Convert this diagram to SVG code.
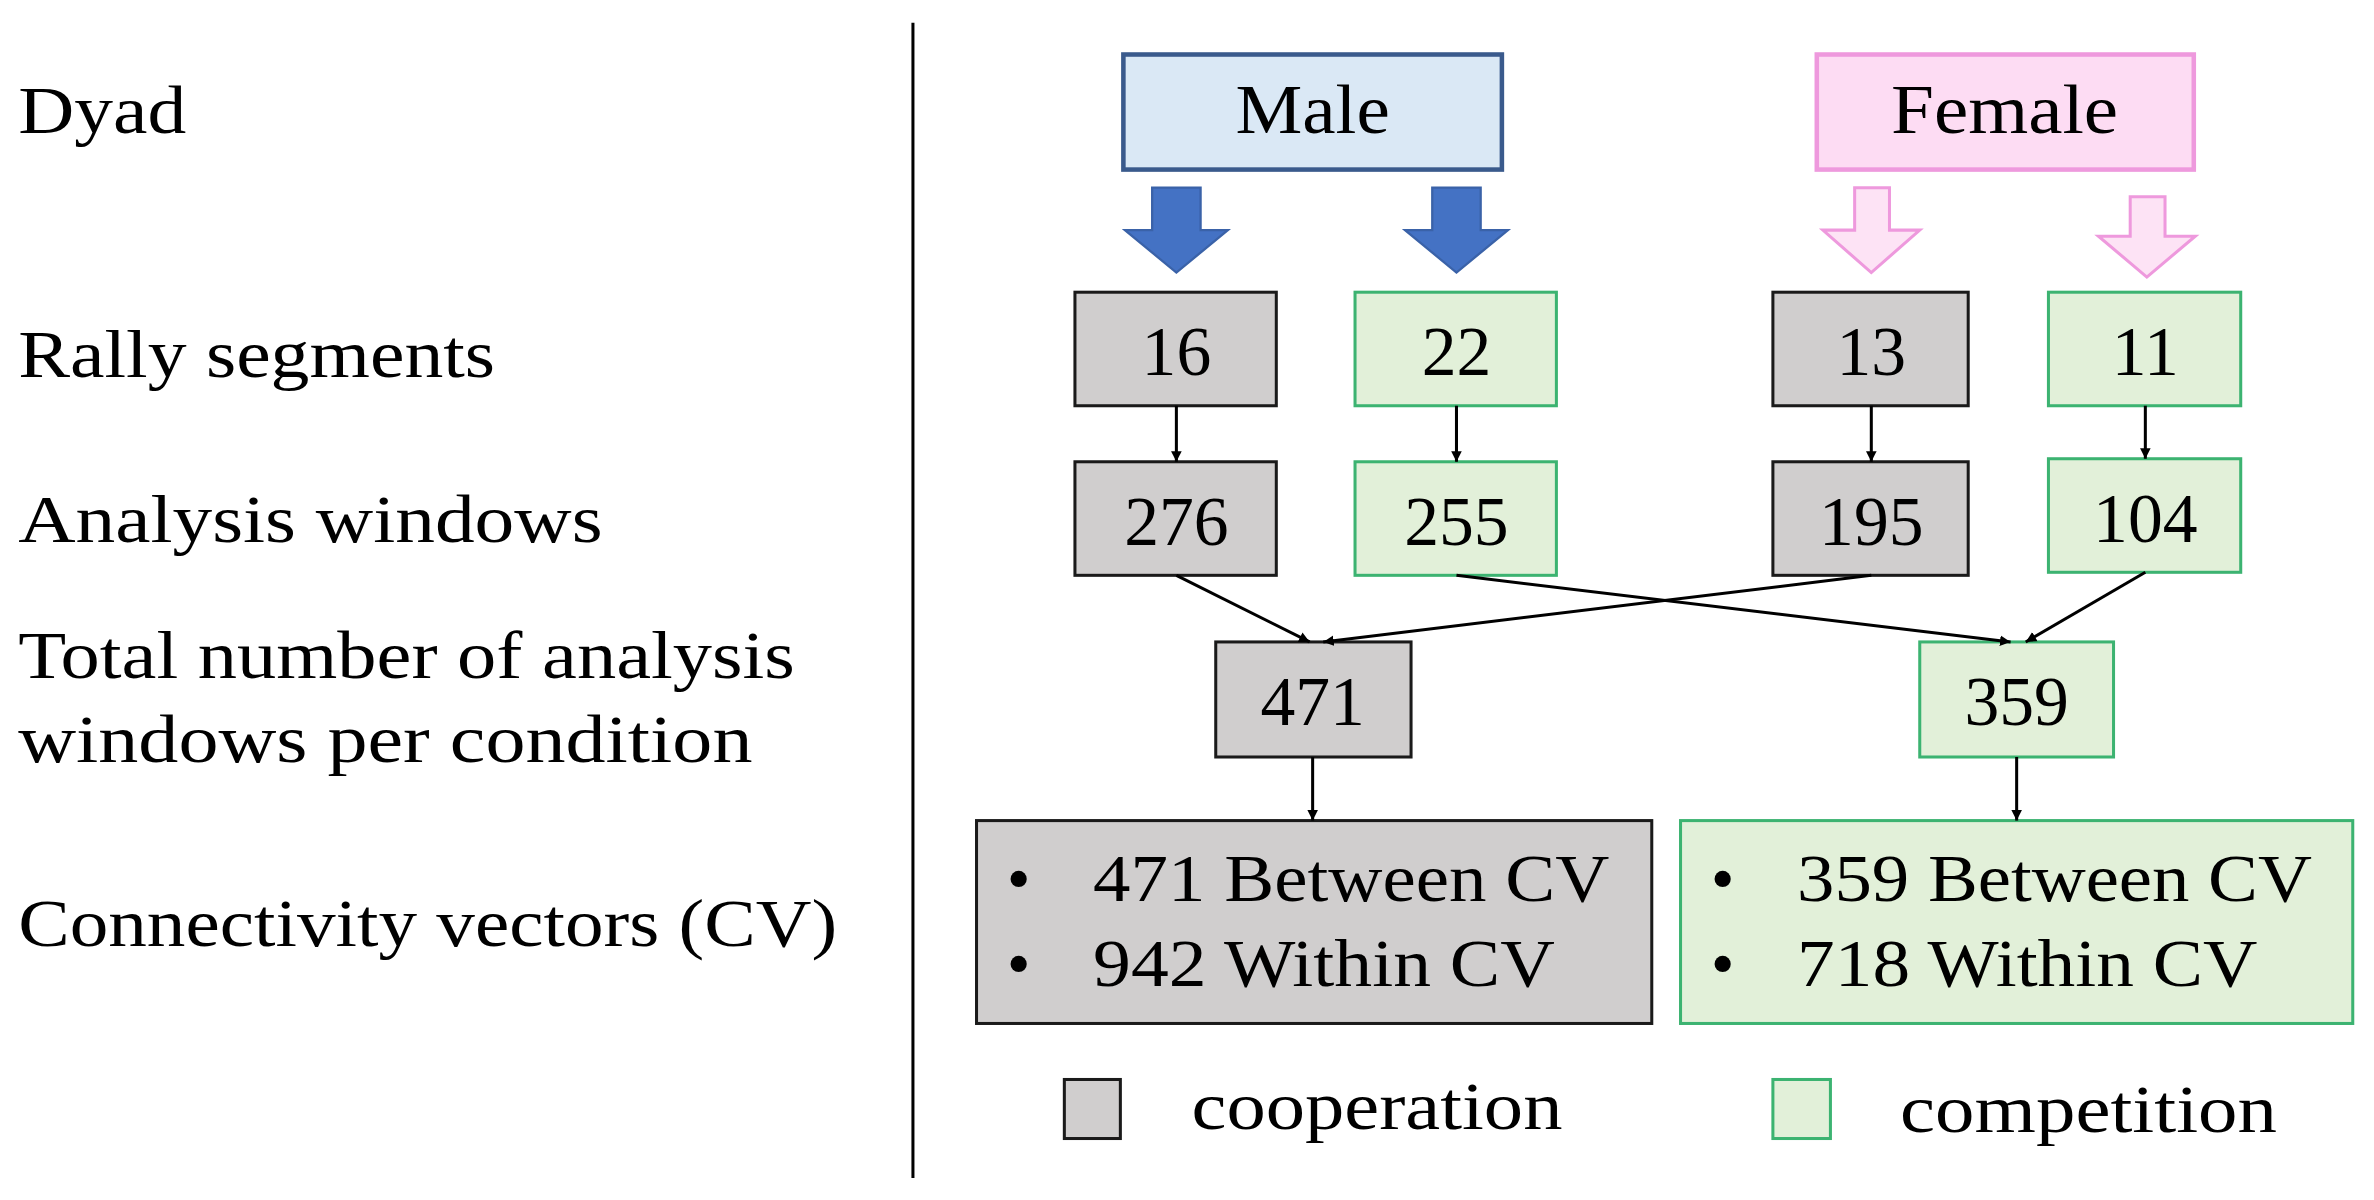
<svg xmlns="http://www.w3.org/2000/svg" width="2374" height="1200" viewBox="0 0 2374 1200">
<style>
text{font-family:"Liberation Serif","DejaVu Serif",serif;fill:#000}
.lbl{font-size:45px}
.num{font-size:46px;text-anchor:middle}
.coop{fill:#d0cece;stroke:#1a1a1a;stroke-width:2}
.comp{fill:#e2f0d9;stroke:#3cb371;stroke-width:2}
.con{stroke:#000;stroke-width:2;fill:none;marker-end:url(#ah)}
</style>
<defs>
<marker id="ah" viewBox="0 0 10 10" refX="10" refY="5" markerWidth="7" markerHeight="9" orient="auto" markerUnits="userSpaceOnUse"><path d="M0,0 L10,5 L0,10 z" fill="#000"/></marker>
</defs>
<rect width="2374" height="1200" fill="#fff"/>
<g transform="scale(1.514)">
<g id="labels">
<text class="lbl" x="12" y="88" textLength="111" lengthAdjust="spacingAndGlyphs">Dyad</text>
<text class="lbl" x="12" y="249" textLength="315" lengthAdjust="spacingAndGlyphs">Rally segments</text>
<text class="lbl" x="12" y="358" textLength="386" lengthAdjust="spacingAndGlyphs">Analysis windows</text>
<text class="lbl" x="12" y="448" textLength="513" lengthAdjust="spacingAndGlyphs">Total number of analysis</text>
<text class="lbl" x="12" y="503" textLength="485" lengthAdjust="spacingAndGlyphs">windows per condition</text>
<text class="lbl" x="12" y="625" textLength="541" lengthAdjust="spacingAndGlyphs">Connectivity vectors (CV)</text>
</g>
<line x1="603" y1="15" x2="603" y2="778" stroke="#000" stroke-width="2"/>
<g id="male"><rect x="742" y="36" width="250" height="76" fill="#dae8f5" stroke="#3a5a8c" stroke-width="3"/><text class="num" x="867" y="88" textLength="102" lengthAdjust="spacingAndGlyphs">Male</text></g>
<g id="female"><rect x="1200" y="36" width="249" height="76" fill="#fddcf3" stroke="#ee99dd" stroke-width="3"/><text class="num" x="1324" y="88" textLength="150" lengthAdjust="spacingAndGlyphs">Female</text></g>
<g id="blockarrows">
<path d="M761,124 H793 V152 H811 L777,180 L743,152 H761 Z" fill="#4472c4" stroke="#3a62a8" stroke-width="1.5"/>
<path d="M946,124 H978 V152 H996 L962,180 L928,152 H946 Z" fill="#4472c4" stroke="#3a62a8" stroke-width="1.5"/>
<path d="M1225,124 H1248 V152 H1268 L1236,180 L1204,152 H1225 Z" fill="#fde3f5" stroke="#ee99dd" stroke-width="2"/>
<path d="M1407,130 H1430 V156 H1450 L1418,183 L1386,156 H1407 Z" fill="#fde3f5" stroke="#ee99dd" stroke-width="2"/>
</g>
<g id="n16"><rect class="coop" x="710" y="193" width="133" height="75"/><text class="num" x="777" y="248">16</text></g>
<g id="n22"><rect class="comp" x="895" y="193" width="133" height="75"/><text class="num" x="962" y="248">22</text></g>
<g id="n13"><rect class="coop" x="1171" y="193" width="129" height="75"/><text class="num" x="1236" y="248">13</text></g>
<g id="n11"><rect class="comp" x="1353" y="193" width="127" height="75"/><text class="num" x="1417" y="248">11</text></g>
<g id="n276"><rect class="coop" x="710" y="305" width="133" height="75"/><text class="num" x="777" y="360">276</text></g>
<g id="n255"><rect class="comp" x="895" y="305" width="133" height="75"/><text class="num" x="962" y="360">255</text></g>
<g id="n195"><rect class="coop" x="1171" y="305" width="129" height="75"/><text class="num" x="1236" y="360">195</text></g>
<g id="n104"><rect class="comp" x="1353" y="303" width="127" height="75"/><text class="num" x="1417" y="358">104</text></g>
<g id="n471"><rect class="coop" x="803" y="424" width="129" height="76"/><text class="num" x="867" y="479">471</text></g>
<g id="n359"><rect class="comp" x="1268" y="424" width="128" height="76"/><text class="num" x="1332" y="479">359</text></g>
<g id="cvcoop"><rect class="coop" x="645" y="542" width="446" height="134"/>
<text class="lbl" x="665" y="595">•</text><text class="lbl" x="722" y="595" textLength="341" lengthAdjust="spacingAndGlyphs">471 Between CV</text>
<text class="lbl" x="665" y="651">•</text><text class="lbl" x="722" y="651" textLength="305" lengthAdjust="spacingAndGlyphs">942 Within CV</text></g>
<g id="cvcomp"><rect class="comp" x="1110" y="542" width="444" height="134"/>
<text class="lbl" x="1130" y="595">•</text><text class="lbl" x="1187" y="595" textLength="340" lengthAdjust="spacingAndGlyphs">359 Between CV</text>
<text class="lbl" x="1130" y="651">•</text><text class="lbl" x="1187" y="651" textLength="304" lengthAdjust="spacingAndGlyphs">718 Within CV</text></g>
<g id="legend">
<rect class="coop" x="703" y="713" width="37" height="39" stroke-width="3"/><text class="lbl" x="787" y="746" textLength="245" lengthAdjust="spacingAndGlyphs">cooperation</text>
<rect class="comp" x="1171" y="713" width="38" height="39" stroke-width="3"/><text class="lbl" x="1255" y="748" textLength="249" lengthAdjust="spacingAndGlyphs">competition</text>
</g>
<g id="connectors">
<line class="con" x1="777" y1="268" x2="777" y2="305"/>
<line class="con" x1="962" y1="268" x2="962" y2="305"/>
<line class="con" x1="1236" y1="268" x2="1236" y2="305"/>
<line class="con" x1="1417" y1="268" x2="1417" y2="303"/>
<line class="con" x1="777" y1="380" x2="865" y2="424"/>
<line class="con" x1="1236" y1="380" x2="874" y2="424"/>
<line class="con" x1="962" y1="380" x2="1328" y2="424"/>
<line class="con" x1="1417" y1="378" x2="1338" y2="424"/>
<line class="con" x1="867" y1="500" x2="867" y2="542"/>
<line class="con" x1="1332" y1="500" x2="1332" y2="542"/>
</g>
</g>
</svg>
